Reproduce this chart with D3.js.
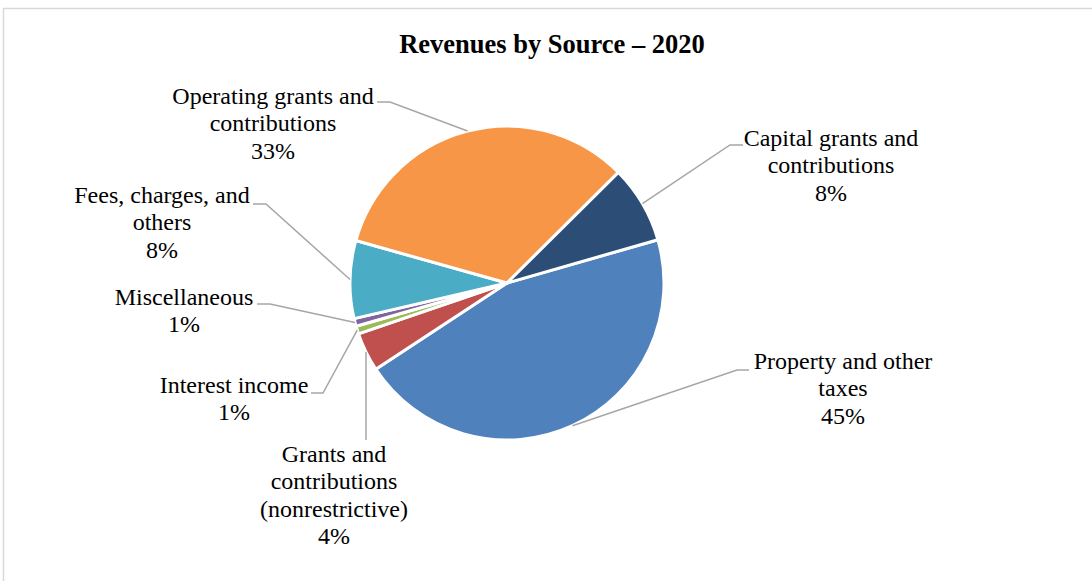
<!DOCTYPE html>
<html>
<head>
<meta charset="utf-8">
<script src="https://cdn.jsdelivr.net/npm/d3@7"></script>
<style>
  body { margin: 0; background: #fff; }
  text { font-family: "Liberation Serif", "Times New Roman", serif; }
</style>
</head>
<body>
<div id="svg-holder"></div>
<script>
// data, in Excel series order (starts clockwise at the blue slice)
const categories = ["Property and other taxes", "Grants and contributions (nonrestrictive)",
  "Interest income", "Miscellaneous", "Fees, charges, and others",
  "Operating grants and contributions", "Capital grants and contributions"];
const values = [45.2, 4.0, 0.8, 0.8, 8.0, 33.2, 8.0];
const pctLabels = ["45%", "4%", "1%", "1%", "8%", "33%", "8%"];
const labelLines = [
  ["Property and other", "taxes"],
  ["Grants and", "contributions", "(nonrestrictive)"],
  ["Interest income"],
  ["Miscellaneous"],
  ["Fees, charges, and", "others"],
  ["Operating grants and", "contributions"],
  ["Capital grants and", "contributions"]
];
const colors = ["#4F81BD", "#C0504D", "#9BBB59", "#8064A2", "#4BACC6", "#F79646", "#2C4D75"];

// label layout: text centre x, first baseline, leader elbow and end
const labelPos = [
  {x: 843, y: 369, elbow: [737, 370], end: [749, 370]},
  {x: 334, y: 462, elbow: null, end: [366, 440]},
  {x: 234, y: 393, elbow: [323, 393], end: [311, 393]},
  {x: 184, y: 305, elbow: [270, 304], end: [257, 304]},
  {x: 162, y: 203, elbow: [266, 204], end: [253, 204]},
  {x: 273, y: 104, elbow: [390, 102], end: [377, 102]},
  {x: 831, y: 146, elbow: [730, 145], end: [743, 145]}
];

const W = 1092, H = 581;
const cx = 507, cy = 283, R = 157;
const lineH = 27.3;

let svg = d3.select("#svg-holder").append("svg")
  .attr("width", W)
  .attr("height", H);

// chart area border
svg.append("rect")
  .attr("x", 3.5).attr("y", 8.5)
  .attr("width", W + 10).attr("height", H + 10)
  .attr("fill", "#fff")
  .attr("stroke", "#D9D9D9")
  .attr("stroke-width", 1.5);

svg.append("text")
  .attr("x", 552).attr("y", 53)
  .attr("text-anchor", "middle")
  .attr("font-size", 26.5)
  .attr("font-weight", "bold")
  .text("Revenues by Source \u2013 2020");

const startA = 74 * Math.PI / 180;
let pie = d3.pie().sort(null).value(d => d)
  .startAngle(startA).endAngle(startA + 2 * Math.PI);
let arcs = pie(values);
let arc = d3.arc().innerRadius(0).outerRadius(R);

let g = svg.append("g").attr("transform", `translate(${cx},${cy})`);
g.selectAll("path")
  .data(arcs)
  .join("path")
  .attr("d", arc)
  .attr("fill", (d, i) => colors[i])
  .attr("stroke", "#fff")
  .attr("stroke-width", 3)
  .attr("stroke-linejoin", "round");

// leader lines from slice edge at mid-angle
arcs.forEach((d, i) => {
  const a = (d.startAngle + d.endAngle) / 2;
  const p0 = [cx + R * Math.sin(a), cy - R * Math.cos(a)];
  const lp = labelPos[i];
  const pts = [p0];
  if (lp.elbow) pts.push(lp.elbow);
  pts.push(lp.end);
  svg.append("path")
    .attr("d", d3.line()(pts))
    .attr("fill", "none")
    .attr("stroke", "#A6A6A6")
    .attr("stroke-width", 1.5);

  const lines = labelLines[i].concat([pctLabels[i]]);
  let t = svg.append("text")
    .attr("text-anchor", "middle")
    .attr("font-size", 24)
    .attr("fill", "#000");
  lines.forEach((s, j) => {
    t.append("tspan")
      .attr("x", lp.x)
      .attr("y", lp.y + j * lineH)
      .text(s);
  });
});
</script>
</body>
</html>
